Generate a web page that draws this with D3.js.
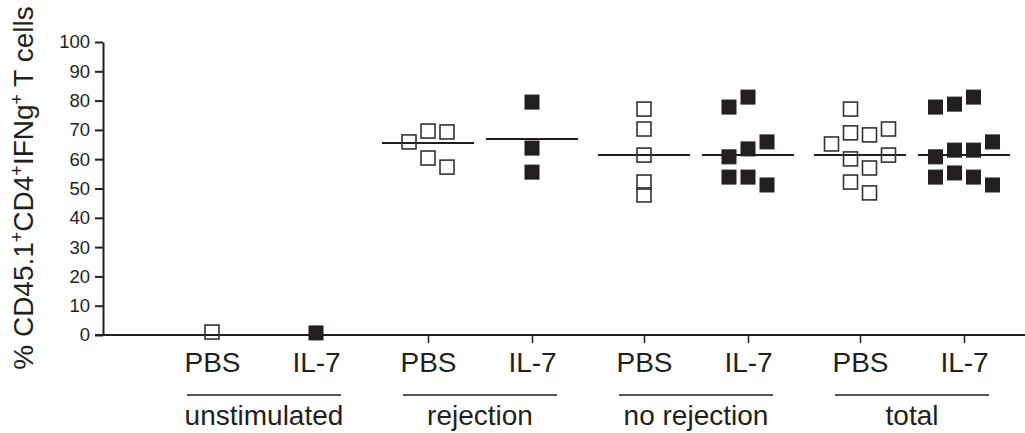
<!DOCTYPE html>
<html>
<head>
<meta charset="utf-8">
<script src="https://cdn.jsdelivr.net/npm/d3@7"></script>
<style>
  body { margin: 0; background: #fff; }
  text { font-family: "Liberation Sans", Arial, Helvetica, sans-serif; fill: #231f20; }
</style>
</head>
<body>
<div id="chart"></div>
<script>
// groups and treatments along the x axis
var groups = ["unstimulated", "rejection", "no rejection", "total"];
var treatments = ["PBS", "IL-7"];
var yTicks = [0, 10, 20, 30, 40, 50, 60, 70, 80, 90, 100];

// values per category (%), with jitter column of each square
var unstimPBS = [1.0];
var unstimPBSCol = [0];
var unstimIL7 = [0.7];
var unstimIL7Col = [0];
var rejPBS = [65.9, 69.6, 69.3, 60.4, 57.3];
var rejPBSCol = [-1, 0, 1, 0, 1];
var rejIL7 = [79.5, 63.8, 55.6];
var rejIL7Col = [0, 0, 0];
var norejPBS = [77.1, 70.3, 61.4, 52.2, 47.8];
var norejPBSCol = [0, 0, 0, 0, 0];
var norejIL7 = [77.8, 81.2, 60.8, 63.5, 65.9, 53.9, 53.9, 51.2];
var norejIL7Col = [-1, 0, -1, 0, 1, -1, 0, 1];
var totalPBS = [77.1, 69.0, 68.3, 70.3, 65.2, 60.1, 61.4, 57.0, 52.2, 48.5];
var totalPBSCol = [0, 0, 1, 2, -1, 0, 2, 1, 0, 1];
var totalIL7 = [77.8, 78.8, 81.2, 60.8, 63.1, 63.1, 65.9, 53.9, 55.3, 53.9, 51.2];
var totalIL7Col = [-1, 0, 1, -1, 0, 1, 2, -1, 0, 1, 2];

// horizontal mean lines (null = none drawn)
var means = [null, null, 65.5, 66.9, 61.4, 61.4, 61.4, 61.4];

var width = 1025, height = 433;
var ink = "#231f20";

var svg = d3.select("#chart")
  .append("svg")
    .attr("width", width)
    .attr("height", height);

var y = d3.scaleLinear()
  .domain([0, 100])
  .range([335, 42]);

var xGroup = d3.scaleBand()
  .domain(groups)
  .range([156, 1020])
  .paddingInner(0)
  .paddingOuter(0);

var xTreat = d3.scalePoint()
  .domain(treatments)
  .range([-52, 52]);

function cx(g, t) { return xGroup(g) + xGroup.bandwidth() / 2 + xTreat(t); }

var cats = [];
groups.forEach(function(g) {
  treatments.forEach(function(t) { cats.push({g: g, t: t}); });
});
var catVals = [unstimPBS, unstimIL7, rejPBS, rejIL7, norejPBS, norejIL7, totalPBS, totalIL7];
var catCols = [unstimPBSCol, unstimIL7Col, rejPBSCol, rejIL7Col, norejPBSCol, norejIL7Col, totalPBSCol, totalIL7Col];
cats.forEach(function(c, i) { c.vals = catVals[i]; c.cols = catCols[i]; c.mean = means[i]; });

// Y axis
var axisY = svg.append("g")
  .attr("transform", "translate(103,0)")
  .call(d3.axisLeft(y).tickValues(yTicks).tickSize(8).tickSizeOuter(0).tickPadding(5));
axisY.select(".domain").attr("stroke", ink).attr("stroke-width", 2);
axisY.selectAll(".tick line").attr("stroke", ink).attr("stroke-width", 2);
axisY.selectAll(".tick text")
  .attr("font-size", 18.5)
  .attr("font-family", null)
  .attr("fill", ink);

// X axis: baseline plus ticks and treatment labels
svg.append("line")
  .attr("x1", 95).attr("x2", 1025)
  .attr("y1", y(0)).attr("y2", y(0))
  .attr("stroke", ink).attr("stroke-width", 2);

var xCat = d3.scaleOrdinal()
  .domain(cats.map(function(c, i) { return i; }))
  .range(cats.map(function(c) { return cx(c.g, c.t); }));
var axisX = svg.append("g")
  .attr("transform", "translate(0," + y(0) + ")")
  .call(d3.axisBottom(xCat).tickSize(8).tickPadding(9)
    .tickFormat(function(i) { return cats[i].t; }));
axisX.select(".domain").remove();
axisX.selectAll(".tick line")
  .attr("stroke", ink).attr("stroke-width", 1.5)
  .attr("display", function(i) { return cats[i].g === "unstimulated" ? "none" : null; });
axisX.selectAll(".tick text")
  .attr("font-size", 28)
  .attr("font-family", null)
  .attr("fill", ink);

// group underlines and labels
var grp = svg.selectAll(".grp")
  .data(groups)
  .enter().append("g")
    .attr("class", "grp");
grp.append("line")
  .attr("x1", function(g) { return xGroup(g) + xGroup.bandwidth() / 2 - 77; })
  .attr("x2", function(g) { return xGroup(g) + xGroup.bandwidth() / 2 + 77; })
  .attr("y1", 395).attr("y2", 395)
  .attr("stroke", ink).attr("stroke-width", 1.5);
grp.append("text")
  .attr("x", function(g) { return xGroup(g) + xGroup.bandwidth() / 2; })
  .attr("y", 425)
  .attr("text-anchor", "middle")
  .attr("font-size", 28)
  .text(function(g) { return g; });

// mean lines
svg.selectAll(".mean")
  .data(cats.filter(function(c) { return c.mean != null; }))
  .enter().append("line")
    .attr("class", "mean")
    .attr("x1", function(c) { return cx(c.g, c.t) - 46; })
    .attr("x2", function(c) { return cx(c.g, c.t) + 46; })
    .attr("y1", function(c) { return y(c.mean); })
    .attr("y2", function(c) { return y(c.mean); })
    .attr("stroke", ink).attr("stroke-width", 2);

// squares
var sz = 14, colStep = 19;
cats.forEach(function(c) {
  var lo = d3.min(c.cols), hi = d3.max(c.cols), mid = (lo + hi) / 2;
  var pts = c.vals.map(function(v, j) { return {v: v, col: c.cols[j]}; });
  var filled = c.t === "IL-7";
  svg.selectAll(null)
    .data(pts)
    .enter().append("rect")
      .attr("x", function(d) { return cx(c.g, c.t) + (d.col - mid) * colStep - sz / 2; })
      .attr("y", function(d) { return y(d.v) - sz / 2; })
      .attr("width", sz)
      .attr("height", sz)
      .attr("fill", filled ? ink : "#fff")
      .attr("fill-opacity", filled ? 1 : 0)
      .attr("stroke", filled ? ink : "#333")
      .attr("stroke-width", filled ? 1 : 1.6);
});

// Y axis title
var title = svg.append("text")
  .attr("transform", "translate(33,188) rotate(-90)")
  .attr("text-anchor", "middle")
  .attr("font-size", 28);
title.append("tspan").text("% CD45.1");
title.append("tspan").attr("baseline-shift", "super").attr("font-size", 18).text("+");
title.append("tspan").text("CD4");
title.append("tspan").attr("baseline-shift", "super").attr("font-size", 18).text("+");
title.append("tspan").text("IFNg");
title.append("tspan").attr("baseline-shift", "super").attr("font-size", 18).text("+");
title.append("tspan").text(" T cells");
</script>
</body>
</html>
